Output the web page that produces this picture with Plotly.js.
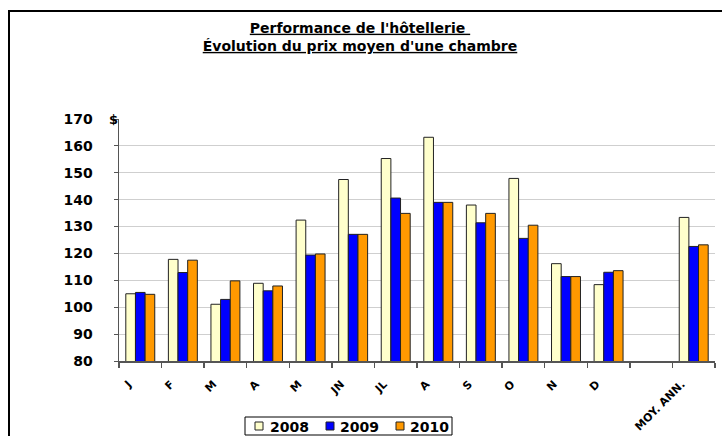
<!DOCTYPE html>
<html>
<head>
<meta charset="utf-8">
<script src="https://cdn.plot.ly/plotly-3.0.1.min.js"></script>
<style>
html,body{margin:0;padding:0;background:#fff;}
#wrap{position:relative;width:722px;height:436px;overflow:hidden;}
#frame{position:absolute;left:8px;top:10px;width:730px;height:440px;border-left:2px solid #000;border-top:2px solid #000;box-sizing:border-box;pointer-events:none;}
#chart{position:absolute;left:0;top:0;width:722px;height:436px;}
</style>
</head>
<body>
<div id="wrap">
<div id="chart"></div>
<div id="frame"></div>
</div>
<script>
const categories = ['J','F','M','A','M','JN','JL','A','S','O','N','D','','MOY. ANN.'];
const seriesNames = ['2008','2009','2010'];
const values2008 = [105.0, 117.8, 101.1, 108.9, 132.4, 147.5, 155.3, 163.2, 138.0, 147.9, 116.2, 108.4, null, 133.4];
const values2009 = [105.5, 112.9, 102.9, 106.1, 119.4, 127.1, 140.6, 139.0, 131.4, 125.6, 111.4, 113.0, null, 122.6];
const values2010 = [104.8, 117.5, 109.8, 107.9, 119.8, 127.1, 134.9, 139.0, 134.9, 130.5, 111.4, 113.6, null, 123.2];
const colors = ['#FFFFCC', '#0000FF', '#FF9900'];

const xpos = categories.map((c, i) => i);
const allValues = [values2008, values2009, values2010];
const FONT = 'DejaVu Sans, Verdana, sans-serif';

// plot area geometry (pixels)
const M = {l: 119, r: 7, t: 119, b: 75};
const W = 722, H = 436;
const PW = W - M.l - M.r, PH = H - M.t - M.b;
const px2x = p => (p - M.l) / PW;
const px2y = p => (H - M.b - p) / PH;

const traces = allValues.map((vals, k) => ({
  type: 'bar',
  name: seriesNames[k],
  x: xpos,
  y: vals,
  marker: {color: colors[k], line: {color: '#222', width: 1}},
  hoverinfo: 'y'
}));

// custom legend (box, swatches, labels)
const legendBox = {x0: 245, x1: 452, y0: 417, y1: 435};
const swatchX = [255, 326, 396];
const labelX = [268, 338, 408];
const shapes = [{
  type: 'rect', xref: 'paper', yref: 'paper',
  x0: px2x(legendBox.x0), x1: px2x(legendBox.x1),
  y0: px2y(legendBox.y1), y1: px2y(legendBox.y0),
  line: {color: '#000', width: 1}, fillcolor: '#fff', layer: 'above'
}];
const annotations = [{
  xref: 'paper', yref: 'y',
  x: 0, y: 170,
  text: '<b>$</b>',
  showarrow: false,
  xanchor: 'right', yanchor: 'middle',
  xshift: 1,
  font: {size: 13, family: FONT, color: '#000'}
}];
seriesNames.forEach((name, k) => {
  shapes.push({
    type: 'rect', xref: 'paper', yref: 'paper',
    x0: px2x(swatchX[k]), x1: px2x(swatchX[k] + 8),
    y0: px2y(430), y1: px2y(422),
    line: {color: '#222', width: 1}, fillcolor: colors[k], layer: 'above'
  });
  annotations.push({
    xref: 'paper', yref: 'paper',
    x: px2x(labelX[k]), y: px2y(426.5),
    xanchor: 'left', yanchor: 'middle',
    text: '<b>' + name + '</b>',
    showarrow: false,
    font: {size: 14, family: FONT, color: '#000'}
  });
});

const layout = {
  width: W,
  height: H,
  margin: {l: M.l, r: M.r, t: M.t, b: M.b, autoexpand: false},
  paper_bgcolor: '#fff',
  plot_bgcolor: '#fff',
  barmode: 'group',
  bargap: 0.32,
  bargroupgap: 0,
  showlegend: false,
  font: {family: FONT, color: '#000'},
  title: {
    text: "<b><u>Performance de l'hôtellerie </u></b><br><b><u>Évolution du prix moyen d'une chambre</u></b>",
    font: {size: 14, family: FONT, color: '#000'},
    x: 360 / 722, xanchor: 'center', xref: 'container',
    y: 0.925, yanchor: 'top', yref: 'container',
    automargin: false
  },
  xaxis: {
    range: [-0.5, categories.length - 0.5],
    tickmode: 'array',
    tickvals: xpos,
    ticktext: categories,
    tickangle: -45,
    ticks: '',
    ticklabelstandoff: 11,
    ticklabelshift: -12,
    tickfont: {size: 11, family: FONT, weight: 'bold', color: '#000'},
    showgrid: false,
    zeroline: false,
    showline: true,
    linecolor: '#555',
    linewidth: 1.5,
    automargin: false,
    minor: {tick0: 0.5, dtick: 1, ticks: 'outside', ticklen: 5, tickcolor: '#555', tickwidth: 1.5, showgrid: false},
    fixedrange: true
  },
  yaxis: {
    range: [80, 170],
    dtick: 10,
    tick0: 80,
    ticks: 'outside',
    ticklen: 4,
    tickcolor: '#555',
    ticklabelstandoff: 18,
    tickfont: {size: 14, family: FONT, weight: 'bold', color: '#000'},
    showgrid: true,
    gridcolor: '#cfcfcf',
    gridwidth: 1,
    zeroline: false,
    showline: true,
    linecolor: '#555',
    linewidth: 1.5,
    automargin: false,
    fixedrange: true
  },
  shapes: shapes,
  annotations: annotations
};

Plotly.newPlot('chart', traces, layout, {staticPlot: true, displayModeBar: false});
</script>
</body>
</html>
